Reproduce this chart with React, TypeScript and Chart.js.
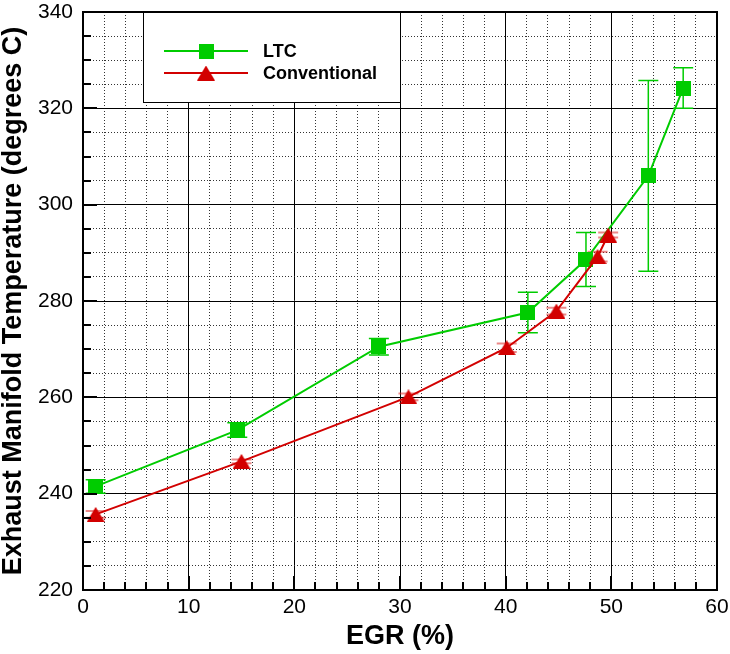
import React, { useEffect, useRef } from 'react';
import { Chart, registerables } from 'chart.js';

Chart.register(...registerables);

// ---- data ----
const ltcEgr = [1.2, 14.6, 28.0, 42.1, 47.6, 53.5, 56.8];
const ltcTemp = [241.5, 253.2, 270.5, 277.6, 288.6, 306.0, 324.2];
const ltcErr = [1.4, 1.5, 1.7, 4.2, 5.6, 19.8, 4.2];

const convEgr = [1.2, 15.0, 30.8, 40.1, 44.8, 48.7, 49.7];
const convTemp = [235.7, 246.7, 260.1, 270.3, 277.9, 289.2, 293.7];
const convErr = [0.7, 0.4, 0.7, 0.9, 0.7, 1.0, 0.5];

const seriesNames = ['LTC', 'Conventional'];
const xTitle = 'EGR (%)';
const yTitle = 'Exhaust Manifold Temperature (degrees C)';
const xRange = [0, 60];
const yRange = [220, 340];

const GREEN = 'rgb(0,204,0)';
const RED = 'rgb(210,0,0)';
const FONT = "'Liberation Sans', Arial, sans-serif";
const MINOR = '#333';

function makeSquare(size: number, color: string) {
  const c = document.createElement('canvas');
  c.width = size;
  c.height = size;
  const g = c.getContext('2d')!;
  g.fillStyle = color;
  g.fillRect(0, 0, size, size);
  return c;
}

function makeTriangle(w: number, h: number, color: string) {
  const c = document.createElement('canvas');
  c.width = w;
  c.height = h;
  const g = c.getContext('2d')!;
  g.fillStyle = color;
  g.beginPath();
  g.moveTo(w / 2, 0);
  g.lineTo(w, h);
  g.lineTo(0, h);
  g.closePath();
  g.fill();
  return c;
}

const isMul = (v: number, m: number) => Math.abs(v / m - Math.round(v / m)) < 1e-6;

export default function App() {
  const ref = useRef<HTMLCanvasElement>(null);

  useEffect(() => {
    const sq = makeSquare(15, GREEN);
    const tri = makeTriangle(18, 15, RED);

    const errorBars = {
      id: 'errorBars',
      beforeDatasetsDraw(chart: any) {
        const { ctx } = chart;
        const xs = chart.scales.x;
        const ys = chart.scales.y;
        const sets = [
          { xv: ltcEgr, yv: ltcTemp, ev: ltcErr, color: GREEN, width: 1.5 },
          { xv: convEgr, yv: convTemp, ev: convErr, color: 'rgba(220,40,40,0.55)', width: 2 },
        ];
        ctx.save();
        for (const s of sets) {
          ctx.strokeStyle = s.color;
          ctx.lineWidth = s.width;
          s.xv.forEach((xv, i) => {
            const px = xs.getPixelForValue(xv);
            const hi = ys.getPixelForValue(s.yv[i] + s.ev[i]);
            const lo = ys.getPixelForValue(s.yv[i] - s.ev[i]);
            ctx.beginPath();
            ctx.moveTo(px, hi);
            ctx.lineTo(px, lo);
            ctx.moveTo(px - 10, hi);
            ctx.lineTo(px + 10, hi);
            ctx.moveTo(px - 10, lo);
            ctx.lineTo(px + 10, lo);
            ctx.stroke();
          });
        }
        ctx.restore();
      },
    };

    const legendBox = {
      id: 'legendBox',
      beforeDatasetsDraw(chart: any) {
        const { ctx } = chart;
        ctx.save();
        ctx.fillStyle = '#fff';
        ctx.fillRect(143, 12, 257, 90);
        ctx.strokeStyle = '#000';
        ctx.lineWidth = 1;
        ctx.strokeRect(143.5, 12.5, 257, 90);
        const rows = [
          { y: 51, color: GREEN, img: sq, label: seriesNames[0] },
          { y: 73, color: RED, img: tri, label: seriesNames[1] },
        ];
        for (const r of rows) {
          ctx.strokeStyle = r.color;
          ctx.lineWidth = 2;
          ctx.beginPath();
          ctx.moveTo(164, r.y);
          ctx.lineTo(248, r.y);
          ctx.stroke();
          ctx.drawImage(r.img, 206 - r.img.width / 2, r.y - r.img.height / 2);
          ctx.fillStyle = '#000';
          ctx.font = `bold 18px ${FONT}`;
          ctx.textBaseline = 'middle';
          ctx.textAlign = 'left';
          ctx.fillText(r.label, 263, r.y + 1);
        }
        ctx.restore();
      },
    };

    const frameAndTicks = {
      id: 'frameAndTicks',
      afterDraw(chart: any) {
        const { ctx, chartArea } = chart;
        const xs = chart.scales.x;
        const ys = chart.scales.y;
        ctx.save();
        ctx.strokeStyle = '#000';
        ctx.lineWidth = 2;
        ctx.beginPath();
        for (const t of xs.ticks) {
          const px = Math.round(xs.getPixelForValue(t.value));
          const len = isMul(t.value, 10) ? 14 : 8;
          ctx.moveTo(px, chartArea.bottom);
          ctx.lineTo(px, chartArea.bottom - len);
        }
        for (const t of ys.ticks) {
          const py = Math.round(ys.getPixelForValue(t.value));
          const len = isMul(t.value, 20) ? 14 : 8;
          ctx.moveTo(chartArea.left, py);
          ctx.lineTo(chartArea.left + len, py);
        }
        ctx.stroke();
        ctx.lineWidth = 2;
        ctx.strokeRect(chartArea.left, chartArea.top, chartArea.right - chartArea.left, chartArea.bottom - chartArea.top);
        ctx.restore();
      },
    };

    const chart = new Chart(ref.current!, {
      type: 'scatter',
      data: {
        datasets: [
          {
            label: seriesNames[0],
            data: ltcEgr.map((x, i) => ({ x, y: ltcTemp[i] })),
            showLine: true,
            borderColor: GREEN,
            backgroundColor: GREEN,
            borderWidth: 2,
            pointStyle: sq as any,
            order: 2,
          },
          {
            label: seriesNames[1],
            data: convEgr.map((x, i) => ({ x, y: convTemp[i] })),
            showLine: true,
            borderColor: RED,
            backgroundColor: RED,
            borderWidth: 2,
            pointStyle: tri as any,
            order: 1,
          },
        ],
      },
      options: {
        animation: false,
        responsive: true,
        maintainAspectRatio: false,
        layout: { padding: { top: 12, right: 13, left: 0, bottom: 0 } },
        plugins: { legend: { display: false }, tooltip: { enabled: false } },
        scales: {
          x: {
            type: 'linear',
            min: xRange[0],
            max: xRange[1],
            afterFit: (s: any) => { s.height = 64; s.paddingLeft = 0; s.paddingRight = 0; },
            ticks: {
              stepSize: 2,
              autoSkip: false,
              maxTicksLimit: 200,
              maxRotation: 0,
              padding: 5,
              color: '#000',
              font: { family: FONT, size: 21 },
              callback: (v: any) => (isMul(Number(v), 10) ? String(v) : ''),
            },
            grid: {
              drawTicks: false,
              lineWidth: 1,
              color: (c: any) => (c.tick && !isMul(c.tick.value, 10) ? MINOR : '#000'),
            },
            border: {
              display: true,
              color: '#000',
              width: 2,
              dash: (c: any) => (c.tick && !isMul(c.tick.value, 10) ? [1, 2] : []),
            } as any,
            title: {
              display: true,
              text: xTitle,
              color: '#000',
              font: { family: FONT, size: 27, weight: 'bold', lineHeight: 1 },
              padding: { top: 0, bottom: 4 },
            },
          },
          y: {
            type: 'linear',
            min: yRange[0],
            max: yRange[1],
            afterFit: (s: any) => { s.width = 83; s.paddingTop = 0; s.paddingBottom = 0; },
            ticks: {
              stepSize: 5,
              autoSkip: false,
              maxTicksLimit: 200,
              padding: 10,
              color: '#000',
              font: { family: FONT, size: 21 },
              callback: (v: any) => (isMul(Number(v), 20) ? String(v) : ''),
            },
            grid: {
              drawTicks: false,
              lineWidth: 1,
              color: (c: any) => (c.tick && !isMul(c.tick.value, 20) ? MINOR : '#000'),
            },
            border: {
              display: true,
              color: '#000',
              width: 2,
              dash: (c: any) => (c.tick && !isMul(c.tick.value, 20) ? [1, 2] : []),
            } as any,
            title: {
              display: true,
              text: yTitle,
              color: '#000',
              font: { family: FONT, size: 27, weight: 'bold', lineHeight: 1 },
              padding: { top: 0, bottom: 0 },
            },
          },
        },
      },
      plugins: [errorBars, legendBox, frameAndTicks],
    });
    return () => chart.destroy();
  }, []);

  return (
    <div style={{ position: 'absolute', left: 0, top: 0, width: 730, height: 654, background: '#fff' }}>
      <canvas ref={ref} style={{ display: 'block' }} />
    </div>
  );
}
